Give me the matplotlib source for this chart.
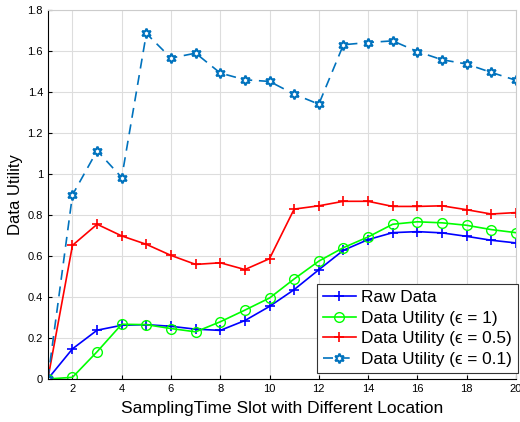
import matplotlib
matplotlib.use('Agg')
import matplotlib.pyplot as plt

plt.rcParams['font.family'] = ['Liberation Sans', 'DejaVu Sans']

slots = list(range(1, 21))
raw_data = [0, 0.147, 0.238, 0.262, 0.265, 0.257, 0.243, 0.237, 0.285, 0.354,
            0.436, 0.533, 0.628, 0.68, 0.714, 0.719, 0.713, 0.696, 0.677, 0.664]
util_eps1 = [0, 0.008, 0.133, 0.267, 0.265, 0.246, 0.23, 0.279, 0.336, 0.395,
             0.488, 0.575, 0.641, 0.693, 0.755, 0.767, 0.762, 0.75, 0.729, 0.714]
util_eps05 = [0, 0.652, 0.755, 0.698, 0.657, 0.603, 0.559, 0.567, 0.534, 0.587,
              0.829, 0.845, 0.867, 0.867, 0.842, 0.842, 0.845, 0.826, 0.805, 0.812]
util_eps01 = [0, 0.898, 1.114, 0.983, 1.686, 1.566, 1.59, 1.493, 1.46, 1.452,
              1.39, 1.341, 1.631, 1.642, 1.65, 1.598, 1.558, 1.537, 1.496, 1.458]

fig = plt.figure(figsize=(5.2, 4.22), dpi=100)
ax = fig.add_axes([0.092, 0.102, 0.9, 0.874])

ax.plot(slots, raw_data, color='b', marker='+', markersize=7, markeredgewidth=1.2,
        linewidth=1.2, label='Raw Data')
ax.plot(slots, util_eps1, color=(0, 1, 0), marker='o', markersize=7,
        markerfacecolor='none', linewidth=1.2, label='Data Utility (\u03f5 = 1)')
ax.plot(slots, util_eps05, color='r', marker='+', markersize=7, markeredgewidth=1.2,
        linewidth=1.2, label='Data Utility (\u03f5 = 0.5)')
ax.plot(slots, util_eps01, color='#0072BD', marker=(6, 1, 0), markersize=7,
        markerfacecolor='white', markeredgewidth=1.5, linestyle=(0, (6, 4)),
        linewidth=1.2, label='Data Utility (\u03f5 = 0.1)')

ax.set_xlim(1, 20)
ax.set_ylim(0, 1.8)
ax.set_xticks(range(2, 21, 2))
yt = [0, 0.2, 0.4, 0.6, 0.8, 1, 1.2, 1.4, 1.6, 1.8]
ax.set_yticks(yt)
ax.set_yticklabels(['0', '0.2', '0.4', '0.6', '0.8', '1', '1.2', '1.4', '1.6', '1.8'])
ax.tick_params(direction='in', labelsize=8, length=3)
ax.grid(True, color='#dddddd', linewidth=0.8)
ax.set_axisbelow(True)
for s in ['top', 'right']:
    ax.spines[s].set_color('#cccccc')

ax.set_xlabel('SamplingTime Slot with Different Location', fontsize=12.5, labelpad=5)
ax.set_ylabel('Data Utility', fontsize=12, labelpad=3)

leg = ax.legend(loc='lower right', bbox_to_anchor=(0.996, 0.116),
                bbox_transform=fig.transFigure, fontsize=12.4, fancybox=False,
                framealpha=1, edgecolor='#333333', borderpad=0.35, labelspacing=0.32,
                handlelength=1.9, handletextpad=0.3, borderaxespad=0)
leg.get_frame().set_linewidth(0.8)

fig.savefig('out.png', dpi=100)
